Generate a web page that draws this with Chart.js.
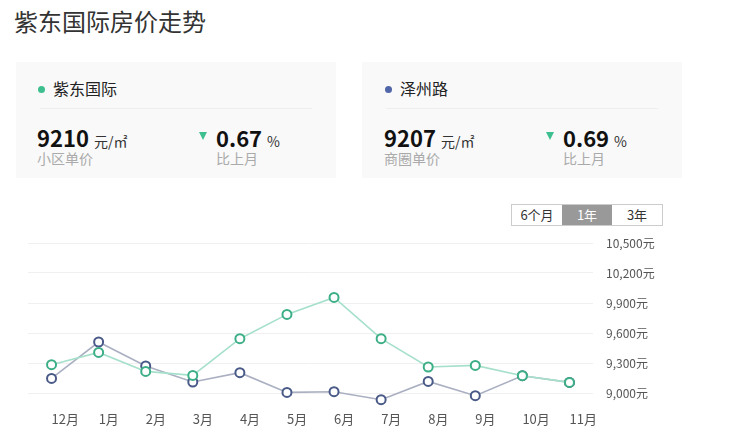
<!DOCTYPE html>
<html>
<head>
<meta charset="utf-8">
<script src="https://cdn.jsdelivr.net/npm/chart.js@4.4.1/dist/chart.umd.min.js"></script>
<style>
    body { margin: 0; width: 730px; height: 446px; background: #fff; position: relative; overflow: hidden;
           font-family: "Noto Sans CJK SC", "Noto Sans", sans-serif; color: #222; }
    .title { position: absolute; left: 14px; top: 3px; font-size: 24px; color: #333; }
    .card { position: absolute; top: 62px; width: 320px; height: 116px; background: #f9f9f9; }
    .card .name { position: absolute; left: 22px; top: 15px; font-size: 16px; line-height: 22px; color: #222; }
    .card .dot { display: inline-block; width: 7px; height: 7px; border-radius: 50%; margin-right: 8px; vertical-align: 2px; }
    .card .line { position: absolute; left: 24px; right: 24px; top: 46px; border-top: 1px solid #eee; }
    .card .num { position: absolute; top: 60px; font-size: 22px; font-weight: bold; line-height: 30px; color: #111; }
    .card .num small { font-size: 14px; font-weight: normal; color: #333; }
    .card .sub { position: absolute; top: 86px; font-size: 14px; color: #aaa; line-height: 20px; }
    .card .tri { position: absolute; top: 70px; width: 0; height: 0; border-left: 4.5px solid transparent;
                 border-right: 4.5px solid transparent; border-top: 8px solid #3dbf8f; }
    .btns { position: absolute; left: 511px; top: 204px; height: 20px; display: flex; border: 1px solid #ccc; }
    .btns div { width: 50px; text-align: center; font-size: 13px; line-height: 20px; color: #333; }
    .btns .on { background: #999; color: #fff; }
    #wrap { position: absolute; left: 0; top: 232px; width: 730px; height: 214px; }
</style>
</head>
<body>
<div class="title">紫东国际房价走势</div>

<div class="card" style="left:16px">
    <div class="name"><span class="dot" style="background:#3dbf8f"></span>紫东国际</div>
    <div class="line"></div>
    <div class="num" style="left:21px">9210 <small>元/㎡</small></div>
    <div class="sub" style="left:21px">小区单价</div>
    <div class="tri" style="left:183px"></div>
    <div class="num" style="left:200px">0.67 <small>%</small></div>
    <div class="sub" style="left:200px">比上月</div>
</div>

<div class="card" style="left:362px">
    <div class="name" style="left:23px"><span class="dot" style="background:#5066a8"></span>泽州路</div>
    <div class="line"></div>
    <div class="num" style="left:22px">9207 <small>元/㎡</small></div>
    <div class="sub" style="left:22px">商圈单价</div>
    <div class="tri" style="left:184px"></div>
    <div class="num" style="left:201px">0.69 <small>%</small></div>
    <div class="sub" style="left:201px">比上月</div>
</div>

<div class="btns"><div>6个月</div><div class="on">1年</div><div>3年</div></div>

<div id="wrap"><canvas id="trendChart"></canvas></div>

<script>
const months = ['12月', '1月', '2月', '3月', '4月', '5月', '6月', '7月', '8月', '9月', '10月', '11月'];
const zidongPrices = [9283, 9406, 9216, 9176, 9543, 9786, 9956, 9543, 9260, 9276, 9173, 9106];
const zezhouluPrices = [9146, 9510, 9270, 9110, 9203, 9006, 9013, 8933, 9116, 8973, 9173, 9106];
const priceTicks = [9000, 9300, 9600, 9900, 10200, 10500];

document.addEventListener('DOMContentLoaded', () => {
    const ctx = document.getElementById('trendChart').getContext('2d');
    new Chart(ctx, {
        type: 'line',
        data: {
            labels: months,
            datasets: [{
                label: '紫东国际',
                data: zidongPrices,
                borderColor: '#a6e0cb',
                borderWidth: 1.6,
                pointBorderColor: '#3daf86',
                pointBackgroundColor: '#fff',
                pointBorderWidth: 2,
                pointRadius: 4.5,
                tension: 0
            }, {
                label: '泽州路',
                data: zezhouluPrices,
                borderColor: '#aab0c2',
                borderWidth: 1.6,
                pointBorderColor: '#4a5a88',
                pointBackgroundColor: '#fff',
                pointBorderWidth: 2,
                pointRadius: 4.5,
                tension: 0
            }]
        },
        options: {
            responsive: true,
            maintainAspectRatio: false,
            animation: false,
            layout: { padding: { left: 28, top: 11, right: 0, bottom: 0 } },
            scales: {
                x: {
                    offset: true,
                    grid: { display: false, drawTicks: false },
                    border: { display: false },
                    afterFit: (scale) => { scale.height = 38; },
                    ticks: {
                        align: 'start',
                        padding: 3,
                        color: '#555',
                        font: { size: 13, family: '"Noto Sans CJK SC", sans-serif' }
                    }
                },
                y: {
                    position: 'right',
                    min: 8850,
                    max: 10500,
                    afterBuildTicks: (scale) => { scale.ticks = priceTicks.map(v => ({ value: v })); },
                    afterFit: (scale) => { scale.width = 137; },
                    // invisible tick marks push the labels right without adding top margin
                    grid: { color: '#f0f0f0', drawTicks: true, tickLength: 13, tickColor: 'rgba(0,0,0,0)' },
                    border: { display: false },
                    ticks: {
                        padding: 0,
                        color: '#555',
                        font: { size: 12, family: '"Noto Sans CJK SC", sans-serif' },
                        callback: (v) => v.toLocaleString('en-US') + '元'
                    }
                }
            },
            plugins: {
                legend: { display: false },
                tooltip: { enabled: false }
            }
        }
    });
});
</script>
</body>
</html>
